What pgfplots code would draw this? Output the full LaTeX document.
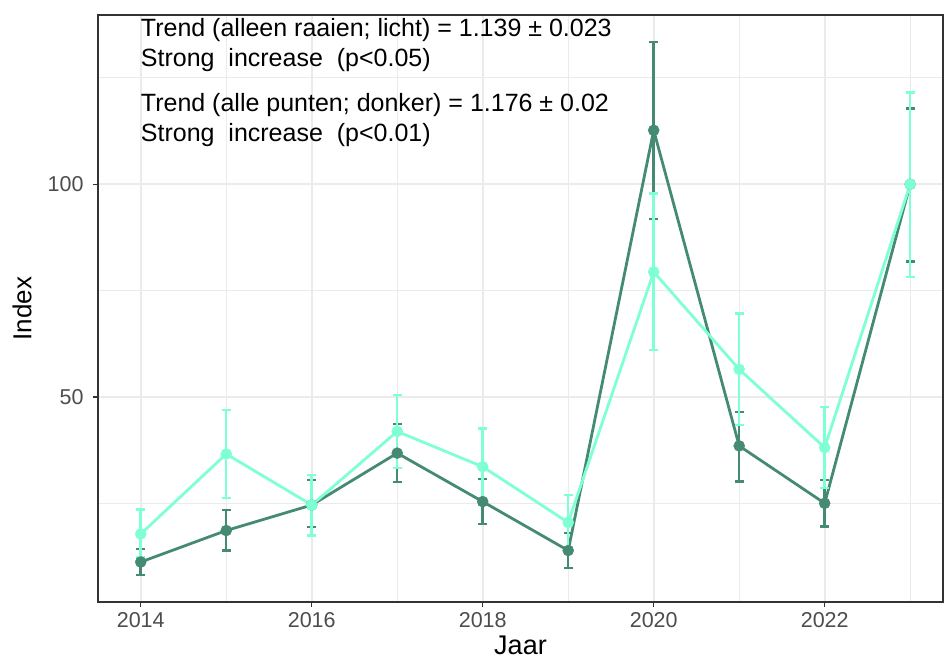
\documentclass[border=0pt]{standalone}
\usepackage{pgfplots}
\pgfplotsset{compat=1.18}
\usepackage{pgfplotstable}
\usepackage{fontspec}
\setmainfont{Liberation Sans}
\definecolor{darkg}{HTML}{458B74}
\definecolor{lightg}{HTML}{7FFFD4}
\definecolor{gridc}{HTML}{EBEBEB}
\definecolor{axc}{HTML}{333333}
\definecolor{tickc}{HTML}{4D4D4D}

\pgfplotstableread{
x y lo hi
2014 11.2 8.1 14.3
2015 18.6 13.9 23.4
2016 24.6 19.4 30.5
2017 36.8 30.0 43.7
2018 25.4 20.1 30.7
2019 13.9 9.8 18.0
2020 112.7 91.8 133.4
2021 38.5 30.1 46.5
2022 25.0 19.6 30.5
2023 100.0 81.8 117.8
}\darktab

\pgfplotstableread{
x y lo hi
2014 17.8 12.3 23.5
2015 36.6 26.2 46.9
2016 24.6 17.4 31.7
2017 41.9 33.3 50.5
2018 33.6 24.6 42.6
2019 20.5 14.6 27.0
2020 79.4 61.0 97.8
2021 56.5 43.4 69.6
2022 38.1 28.6 47.6
2023 100.0 78.2 121.6
}\lighttab

\begin{document}
\begin{tikzpicture}
\path[use as bounding box] (-98bp,-57bp) rectangle (846bp,602bp);
\begin{axis}[
  scale only axis, width=845bp, height=587bp,
  xmin=2013.50, xmax=2023.384, ymin=1.8, ymax=139.8,
  xtick={2014,2016,...,2022}, minor xtick={2015,2017,...,2023},
  ytick={50,100}, minor ytick={25,75,125},
  grid=both,
  major grid style={gridc, line width=1.6bp},
  minor grid style={gridc, line width=0.9bp},
  axis line style={axc, line width=1.1bp},
  tick align=outside, tick style={axc, line width=1.1bp},
  major tick length=5bp, minor tick length=0pt,
  xtick pos=left, ytick pos=left,
  /pgf/number format/assume math mode=true,
  /pgf/number format/set thousands separator={},
  xticklabel style={font=\fontsize{21.5bp}{24bp}\selectfont, text=tickc, anchor=center, yshift=-13bp},
  yticklabel style={font=\fontsize{21.5bp}{24bp}\selectfont, text=tickc, anchor=east, xshift=-6bp},
  xlabel={Jaar}, ylabel={Index},
  xlabel style={font=\fontsize{27bp}{28bp}\selectfont, at={(axis description cs:0.5,-0.089)}, anchor=base},
  ylabel style={font=\fontsize{26bp}{28bp}\selectfont, at={(axis description cs:-0.0899,0.5)}, anchor=center},
  error bars/y dir=both, error bars/y explicit,
]
\addplot[darkg, line width=2.8bp, mark=*, mark size=5.5bp, mark options={solid, fill=darkg, draw=darkg, line width=0.5bp},
  error bars/.cd, error bar style={line width=2.5bp, darkg},
  error mark options={rotate=90, darkg, line width=2.5bp, mark size=4.5bp}]
  table[x=x, y=y, y error plus expr=\thisrow{hi}-\thisrow{y}, y error minus expr=\thisrow{y}-\thisrow{lo}] {\darktab};
\addplot[lightg, line width=2.8bp, mark=*, mark size=5.5bp, mark options={solid, fill=lightg, draw=lightg, line width=0.5bp},
  error bars/.cd, error bar style={line width=2.5bp, lightg},
  error mark options={rotate=90, lightg, line width=2.5bp, mark size=4.5bp}]
  table[x=x, y=y, y error plus expr=\thisrow{hi}-\thisrow{y}, y error minus expr=\thisrow{y}-\thisrow{lo}] {\lighttab};
\node[anchor=west, inner sep=0pt, font=\fontsize{25bp}{28bp}\selectfont] at (axis cs:2014,136.3) {Trend (alleen raaien; licht) = 1.139 ± 0.023};
\node[anchor=west, inner sep=0pt, font=\fontsize{25bp}{28bp}\selectfont] at (axis cs:2014,129.2) {Strong\ \ increase\ \ (p<0.05)};
\node[anchor=west, inner sep=0pt, font=\fontsize{25bp}{28bp}\selectfont] at (axis cs:2014,118.6) {Trend (alle punten; donker) = 1.176 ± 0.02};
\node[anchor=west, inner sep=0pt, font=\fontsize{25bp}{28bp}\selectfont] at (axis cs:2014,111.6) {Strong\ \ increase\ \ (p<0.01)};
\end{axis}
\end{tikzpicture}
\end{document}
